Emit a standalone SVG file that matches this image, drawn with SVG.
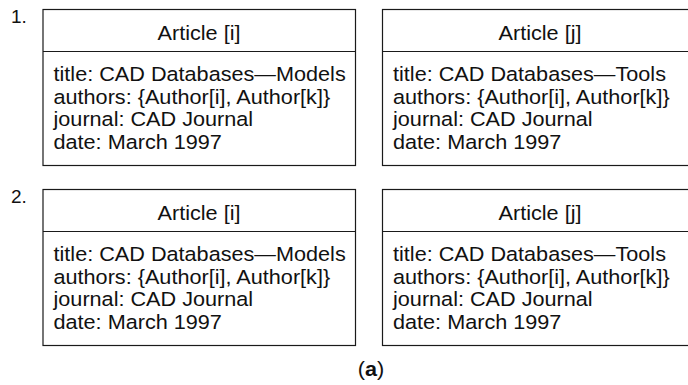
<svg xmlns="http://www.w3.org/2000/svg" width="688" height="385" viewBox="0 0 688 385">
  <style>
    .box { fill: #ffffff; stroke: #1a1a1a; stroke-width: 1.2; }
    .rule { stroke: #1a1a1a; stroke-width: 1.2; }
    text { font-family: "Liberation Sans", Arial, sans-serif; font-size: 19.5px; fill: #111111; }
    .head { text-anchor: middle; }
    .num { font-size: 19px; }
  </style>
  <rect width="688" height="385" fill="#ffffff"/>

  <!-- scenario labels -->
  <text class="num" x="11" y="23">1.</text>
  <text class="num" x="11" y="203">2.</text>

  <!-- scenario 1: the text runs use a slightly widened face (scale 1.11 horizontally) -->
  <g id="s1-article-i">
    <rect class="box" x="43" y="9.5" width="312.5" height="156"/>
    <line class="rule" x1="43" y1="51.5" x2="355.5" y2="51.5"/>
    <g transform="translate(199 0) scale(1.11 1)">
      <text class="head" x="0" y="40">Article [i]</text>
    </g>
    <g transform="translate(53.5 0) scale(1.11 1)">
      <text x="0" y="81.5">title: CAD Databases—Models</text>
      <text x="0" y="104">authors: {Author[i], Author[k]}</text>
      <text x="0" y="126.5">journal: CAD Journal</text>
      <text x="0" y="149">date: March 1997</text>
    </g>
  </g>
  <g id="s1-article-j">
    <rect class="box" x="382.5" y="9.5" width="312.5" height="156"/>
    <line class="rule" x1="382.5" y1="51.5" x2="695" y2="51.5"/>
    <g transform="translate(540 0) scale(1.11 1)">
      <text class="head" x="0" y="40">Article [j]</text>
    </g>
    <g transform="translate(393 0) scale(1.11 1)">
      <text x="0" y="81.5">title: CAD Databases—Tools</text>
      <text x="0" y="104">authors: {Author[i], Author[k]}</text>
      <text x="0" y="126.5">journal: CAD Journal</text>
      <text x="0" y="149">date: March 1997</text>
    </g>
  </g>

  <!-- scenario 2 -->
  <g id="s2-article-i">
    <rect class="box" x="43" y="189.5" width="312.5" height="156"/>
    <line class="rule" x1="43" y1="231.5" x2="355.5" y2="231.5"/>
    <g transform="translate(199 0) scale(1.11 1)">
      <text class="head" x="0" y="220">Article [i]</text>
    </g>
    <g transform="translate(53.5 0) scale(1.11 1)">
      <text x="0" y="261.5">title: CAD Databases—Models</text>
      <text x="0" y="284">authors: {Author[i], Author[k]}</text>
      <text x="0" y="306.5">journal: CAD Journal</text>
      <text x="0" y="329">date: March 1997</text>
    </g>
  </g>
  <g id="s2-article-j">
    <rect class="box" x="382.5" y="189.5" width="312.5" height="156"/>
    <line class="rule" x1="382.5" y1="231.5" x2="695" y2="231.5"/>
    <g transform="translate(540 0) scale(1.11 1)">
      <text class="head" x="0" y="220">Article [j]</text>
    </g>
    <g transform="translate(393 0) scale(1.11 1)">
      <text x="0" y="261.5">title: CAD Databases—Tools</text>
      <text x="0" y="284">authors: {Author[i], Author[k]}</text>
      <text x="0" y="306.5">journal: CAD Journal</text>
      <text x="0" y="329">date: March 1997</text>
    </g>
  </g>

  <!-- no connectors between the records -->
  <g id="connectors"></g>

  <g transform="translate(371 0) scale(1.11 1)">
    <text class="head" x="0" y="376">(<tspan font-weight="bold">a</tspan>)</text>
  </g>
</svg>
